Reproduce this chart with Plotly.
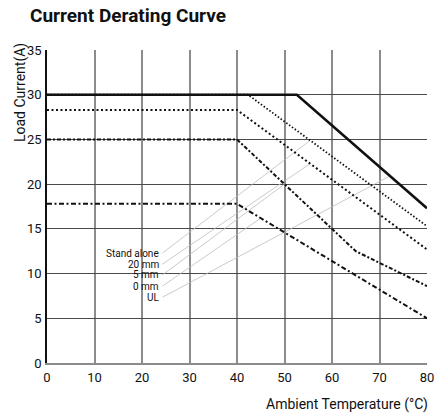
import numpy as np
import plotly.graph_objects as go

# Data
series_names = ["Stand alone", "20 mm", "5 mm", "0 mm", "UL"]
temp_stand_alone = [0, 42.3, 80]
cur_stand_alone = [30, 30, 15.3]
temp_20mm = [0, 40, 80]
cur_20mm = [28.3, 28.3, 12.7]
temp_5mm = [0, 40, 65, 80]
cur_5mm = [25, 25, 12.5, 8.6]
temp_0mm = [0, 40, 80]
cur_0mm = [17.8, 17.8, 5.0]
temp_ul = [0, 52.6, 80]
cur_ul = [30, 30, 17.3]

x_ticks = [0, 10, 20, 30, 40, 50, 60, 70, 80]
y_ticks = [0, 5, 10, 15, 20, 25, 30, 35]

# where each label's leader line touches its curve (temperature)
leader_temp = [55.4, 55.4, 50, 45, 72.2]

FONT = "Roboto, Liberation Sans, sans-serif"

temps = [temp_stand_alone, temp_20mm, temp_5mm, temp_0mm, temp_ul]
curs = [cur_stand_alone, cur_20mm, cur_5mm, cur_0mm, cur_ul]
dashes = ["1.5px,2px", "2px,2.5px", "4px,2px,2px,2px", "5px,2.5px,2px,2.5px", "solid"]
widths = [1.8, 2, 2, 2, 2.6]

fig = go.Figure()

# leader lines (drawn first, below curves)
label_x = 24.3
label_y = [12.3, 11.05, 9.85, 8.6, 7.35]
for i in range(5):
    tx = leader_temp[i]
    ty = float(np.interp(tx, temps[i], curs[i]))
    fig.add_trace(go.Scatter(x=[label_x, tx], y=[label_y[i], ty], mode="lines",
                             line=dict(color="#bdbdbd", width=0.8),
                             showlegend=False, hoverinfo="skip"))

for i in range(5):
    fig.add_trace(go.Scatter(x=temps[i], y=curs[i], mode="lines", name=series_names[i],
                             line=dict(color="#111111", width=widths[i], dash=dashes[i]),
                             showlegend=False))

for i in range(5):
    fig.add_annotation(x=label_x - 0.2, y=label_y[i], xref="x", yref="y", text=series_names[i],
                       showarrow=False, xanchor="right", yanchor="middle",
                       font=dict(family=FONT, size=10, color="#111"))

fig.add_annotation(x=-0.05, y=1.11, xref="paper", yref="paper", text="<b>Current Derating Curve</b>",
                   showarrow=False, xanchor="left", yanchor="middle",
                   font=dict(family=FONT, size=19, color="#111"))
fig.add_annotation(x=-0.068, y=0.863, xref="paper", yref="paper", text="Load Current(A)",
                   showarrow=False, textangle=-90, xanchor="center", yanchor="middle",
                   font=dict(family=FONT, size=14, color="#111"))
fig.add_annotation(x=1.008, y=-0.134, xref="paper", yref="paper", text="Ambient Temperature (°C)",
                   showarrow=False, xanchor="right", yanchor="middle",
                   font=dict(family=FONT, size=14, color="#111"))

fig.update_layout(
    width=438, height=419,
    margin=dict(l=47, r=11, t=50, b=56, autoexpand=False),
    paper_bgcolor="white", plot_bgcolor="white",
    font=dict(family=FONT, size=13, color="#111"),
)
fig.update_xaxes(range=[0, 80], tickvals=x_ticks, ticktext=[str(v) for v in x_ticks],
                 showgrid=True, gridcolor="#8c8c8c", gridwidth=1.5, zeroline=False, automargin=False,
                 showline=True, linecolor="#8c8c8c", linewidth=1.5, ticks="", ticklabelstandoff=2)
fig.update_yaxes(range=[0, 35], tickvals=y_ticks, ticktext=[str(v) for v in y_ticks],
                 showgrid=True, gridcolor="#4a4a4a", gridwidth=1, zeroline=False, automargin=False,
                 showline=True, linecolor="#111", linewidth=1.5, ticks="", ticklabelstandoff=1)

fig.write_html("out.html", config={"displayModeBar": False},
               post_script="document.body.style.margin='0';document.body.style.overflow='hidden';")
